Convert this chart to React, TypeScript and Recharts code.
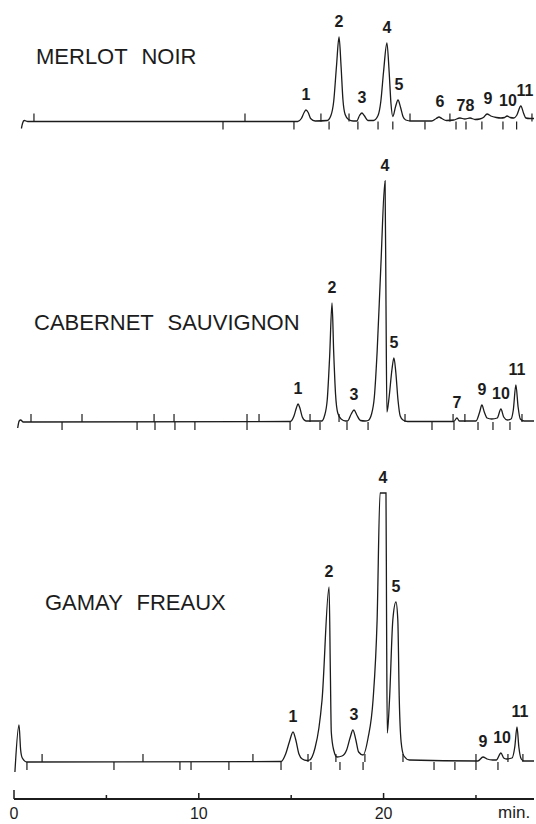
import React from "react";
import { ComposedChart, Line, Scatter, XAxis, YAxis } from "recharts";

const INK = "#1c1c1c";
const FONT = "'Liberation Sans', Arial, Helvetica, sans-serif";

// retention time (min), detector response (arbitrary units)
const merlotTrace = [
  [0.4, -7], [0.46, -2], [0.55, 1], [0.75, 0],
  [15.35, 0], [15.55, 3], [15.7, 9], [15.8, 11.5], [15.92, 9], [16.05, 3], [16.3, 0.5],
  [16.95, 1], [17.15, 6], [17.3, 20], [17.45, 55], [17.59, 84.5], [17.7, 55], [17.8, 22], [17.92, 7], [18.1, 2], [18.35, 0.5],
  [18.55, 0.5], [18.7, 6], [18.83, 8.5], [18.95, 6], [19.15, 1], [19.45, 1],
  [19.7, 6], [19.85, 20], [20.0, 50], [20.18, 78.5], [20.3, 50], [20.4, 18], [20.5, 5],
  [20.65, 15], [20.78, 21.5], [20.92, 14], [21.05, 5], [21.2, 1.5], [21.5, 0.5],
  [22.6, 0.5], [22.85, 3], [23.0, 4.5], [23.15, 3], [23.4, 1],
  [23.8, 1.5], [24.13, 3.5], [24.4, 2.5], [24.68, 3.5], [24.95, 2], [25.2, 2.5],
  [25.4, 4], [25.6, 7.5], [25.8, 5.5], [26.1, 4], [26.35, 3.5],
  [26.55, 4], [26.68, 5.5], [26.85, 4], [27.05, 3.5],
  [27.2, 6], [27.43, 15.5], [27.58, 8], [27.7, 3.5], [27.9, 3], [28.14, 3],
];

const cabernetTrace = [
  [0.2, -6], [0.28, 1], [0.36, 2], [0.5, 0],
  [14.95, 0.5], [15.15, 6], [15.28, 14], [15.37, 18], [15.47, 14], [15.6, 5], [15.8, 1],
  [16.65, 1], [16.8, 6], [16.95, 22], [17.08, 65], [17.21, 119], [17.3, 70], [17.4, 28], [17.52, 9], [17.7, 3], [17.95, 1],
  [18.05, 1], [18.25, 8], [18.4, 12], [18.55, 7], [18.75, 1.5], [19.0, 1], [19.16, 1.5],
  [19.35, 8], [19.5, 25], [19.65, 70], [19.85, 155], [20.08, 241], [20.13, 120], [20.18, 10],
  [20.3, 25], [20.45, 52], [20.56, 64], [20.66, 50], [20.78, 22], [20.9, 6], [21.05, 2], [21.3, 0.5],
  [23.8, 0.5], [23.97, 4], [24.1, 1], [24.4, 1],
  [25.0, 1], [25.2, 10], [25.32, 17], [25.45, 10], [25.6, 4], [25.85, 3],
  [26.15, 4], [26.35, 13], [26.5, 5], [26.7, 2],
  [26.9, 3], [27.02, 12], [27.16, 37], [27.28, 15], [27.4, 3], [27.6, 1], [28.14, 1],
];

const gamayTrace = [
  [0.05, -10], [0.27, 37], [0.36, 12], [0.45, 4], [0.7, 0],
  [14.45, 0.5], [14.7, 8], [14.9, 20], [15.1, 30], [15.25, 22], [15.42, 8], [15.6, 3], [15.85, 1.5],
  [16.0, 2], [16.29, 14], [16.5, 34], [16.67, 62], [17.05, 175], [17.12, 90], [17.17, 30], [17.3, 12], [17.48, 5],
  [17.75, 6], [18.0, 12], [18.2, 25], [18.34, 32], [18.5, 22], [18.65, 10], [18.89, 7],
  [19.16, 24], [19.43, 62], [19.65, 142], [19.81, 269], [20.13, 269], [20.16, 150], [20.2, 29],
  [20.32, 62], [20.5, 142], [20.67, 160], [20.77, 142], [20.85, 62], [20.95, 20], [21.1, 6], [21.4, 2],
  [25.1, 1], [25.38, 5], [25.6, 3], [25.9, 2],
  [26.1, 2], [26.35, 9], [26.5, 4], [26.65, 3],
  [26.95, 4], [27.1, 15], [27.22, 35], [27.32, 15], [27.45, 3], [27.6, 1], [28.14, 1],
];

// peak numbers: [label, time, apex response]
const merlotPeaks = [
  ["1", 15.8, 11.5], ["2", 17.59, 84.5], ["3", 18.83, 8.5], ["4", 20.18, 78.5], ["5", 20.83, 21.5],
  ["6", 23.05, 4.5], ["7", 24.19, 0], ["8", 24.68, 0], ["9", 25.65, 7.5], ["10", 26.73, 5.5], ["11", 27.65, 15.5],
];
const cabernetPeaks = [
  ["1", 15.37, 18], ["2", 17.21, 119], ["3", 18.4, 12], ["4", 20.08, 241], ["5", 20.56, 64],
  ["7", 23.97, 4], ["9", 25.32, 17], ["10", 26.35, 13], ["11", 27.22, 37],
];
const gamayPeaks = [
  ["1", 15.1, 30], ["2", 17.05, 175], ["3", 18.4, 32], ["4", 19.97, 269], ["5", 20.67, 160],
  ["9", 25.38, 5], ["10", 26.41, 9], ["11", 27.38, 35],
];

// integrator event marks on each baseline (min)
const merlotUp = [1.08, 12.5, 16.61, 18.13, 21.43, 23.59, 28.03];
const merlotDown = [11.31, 15.15, 17.05, 18.61, 19.7, 20.5, 22.24, 23.92, 24.46, 25.32, 26.46, 27.2];
const cabernetUp = [0.92, 3.68, 7.58, 8.66, 12.61, 13.26, 16.02, 17.59, 21.16, 23.76, 24.4, 27.49];
const cabernetDown = [2.6, 6.66, 7.63, 8.71, 9.79, 12.61, 14.94, 16.56, 18.02, 19.16, 22.62, 23.81, 25.11, 25.92, 26.84];
const gamayUp = [1.52, 6.98, 12.93, 15.91, 17.42, 18.99, 21.05, 25.0, 26.73, 27.54];
const gamayDown = [0.7, 5.41, 8.98, 9.58, 11.63, 14.45, 16.07, 17.64, 18.89, 22.73, 23.86, 25.0, 26.19];

const timeTicks = [0, 5, 10, 15, 20, 25];

const toPts = (arr: number[][]) => arr.map(([t, v]) => ({ t, v }));
const toPeaks = (arr: any[]) => arr.map(([label, t, v]) => ({ label, t, v }));
const toMarks = (arr: number[]) => arr.map((t) => ({ t, v: 0 }));

const UpMark = (p: any) => (
  <line x1={p.cx} x2={p.cx} y1={p.cy} y2={p.cy - 8} stroke={INK} strokeWidth={1.2} />
);
const DownMark = (p: any) => (
  <line x1={p.cx} x2={p.cx} y1={p.cy} y2={p.cy + 8} stroke={INK} strokeWidth={1.2} />
);
const PeakLabel = (p: any) => (
  <text
    x={p.cx}
    y={p.cy - 16}
    dy="0.36em"
    textAnchor="middle"
    fontSize={16}
    fontWeight="bold"
    fontFamily={FONT}
    fill={INK}
  >
    {p.payload.label}
  </text>
);

const AxisTick = (props: any) => {
  const { x, y, payload } = props;
  const v = payload.value;
  const len = v === 0 ? 9 : v % 10 === 0 ? 6 : 4;
  return (
    <g>
      <line x1={x} x2={x} y1={y} y2={y - len} stroke={INK} strokeWidth={1.5} />
      {v % 10 === 0 && (
        <text x={x} y={y + 20} textAnchor="middle" fontSize={16} fontFamily={FONT} fill={INK}>
          {v}
        </text>
      )}
    </g>
  );
};

function Panel(props: any) {
  const { top, height, domain, trace, peaks, up, down, axis } = props;
  return (
    <div style={{ position: "absolute", left: 0, top, width: 536, height }}>
      <ComposedChart width={536} height={height} margin={{ top: 0, right: 2, bottom: 0, left: 14 }}>
        <XAxis
          type="number"
          dataKey="t"
          domain={[0, 28.14]}
          allowDataOverflow
          hide={!axis}
          height={axis ? 25 : 0}
          ticks={timeTicks}
          interval={0}
          tickSize={0}
          tickMargin={0}
          tickLine={false}
          tick={AxisTick}
          axisLine={{ stroke: INK, strokeWidth: 2 }}
        />
        <YAxis type="number" hide domain={domain} allowDataOverflow />
        <Line
          data={toPts(trace)}
          dataKey="v"
          type="monotone"
          dot={false}
          stroke={INK}
          strokeWidth={1.3}
          isAnimationActive={false}
        />
        <Scatter data={toMarks(up)} dataKey="v" shape={UpMark} isAnimationActive={false} />
        <Scatter data={toMarks(down)} dataKey="v" shape={DownMark} isAnimationActive={false} />
        <Scatter data={toPeaks(peaks)} dataKey="v" shape={PeakLabel} isAnimationActive={false} />
      </ComposedChart>
    </div>
  );
}

const titleStyle: React.CSSProperties = {
  position: "absolute",
  fontFamily: FONT,
  fontSize: 22,
  lineHeight: "22px",
  wordSpacing: 8,
  color: INK,
  whiteSpace: "nowrap",
};

export default function App() {
  return (
    <div style={{ position: "absolute", left: 0, top: 0, width: 536, height: 824, background: "#fff", overflow: "hidden" }}>
      <Panel top={0} height={140} domain={[-18.5, 121.5]} trace={merlotTrace} peaks={merlotPeaks} up={merlotUp} down={merlotDown} />
      <Panel top={140} height={300} domain={[-18, 282]} trace={cabernetTrace} peaks={cabernetPeaks} up={cabernetUp} down={cabernetDown} />
      <Panel top={440} height={384} domain={[-37, 322]} trace={gamayTrace} peaks={gamayPeaks} up={gamayUp} down={gamayDown} axis />
      <div style={{ ...titleStyle, left: 36, top: 46 }}>MERLOT NOIR</div>
      <div style={{ ...titleStyle, left: 34, top: 312 }}>CABERNET SAUVIGNON</div>
      <div style={{ ...titleStyle, left: 45, top: 592 }}>GAMAY FREAUX</div>
      <div style={{ position: "absolute", left: 498, top: 804, fontFamily: FONT, fontSize: 17, lineHeight: "17px", color: INK }}>
        min.
      </div>
    </div>
  );
}
